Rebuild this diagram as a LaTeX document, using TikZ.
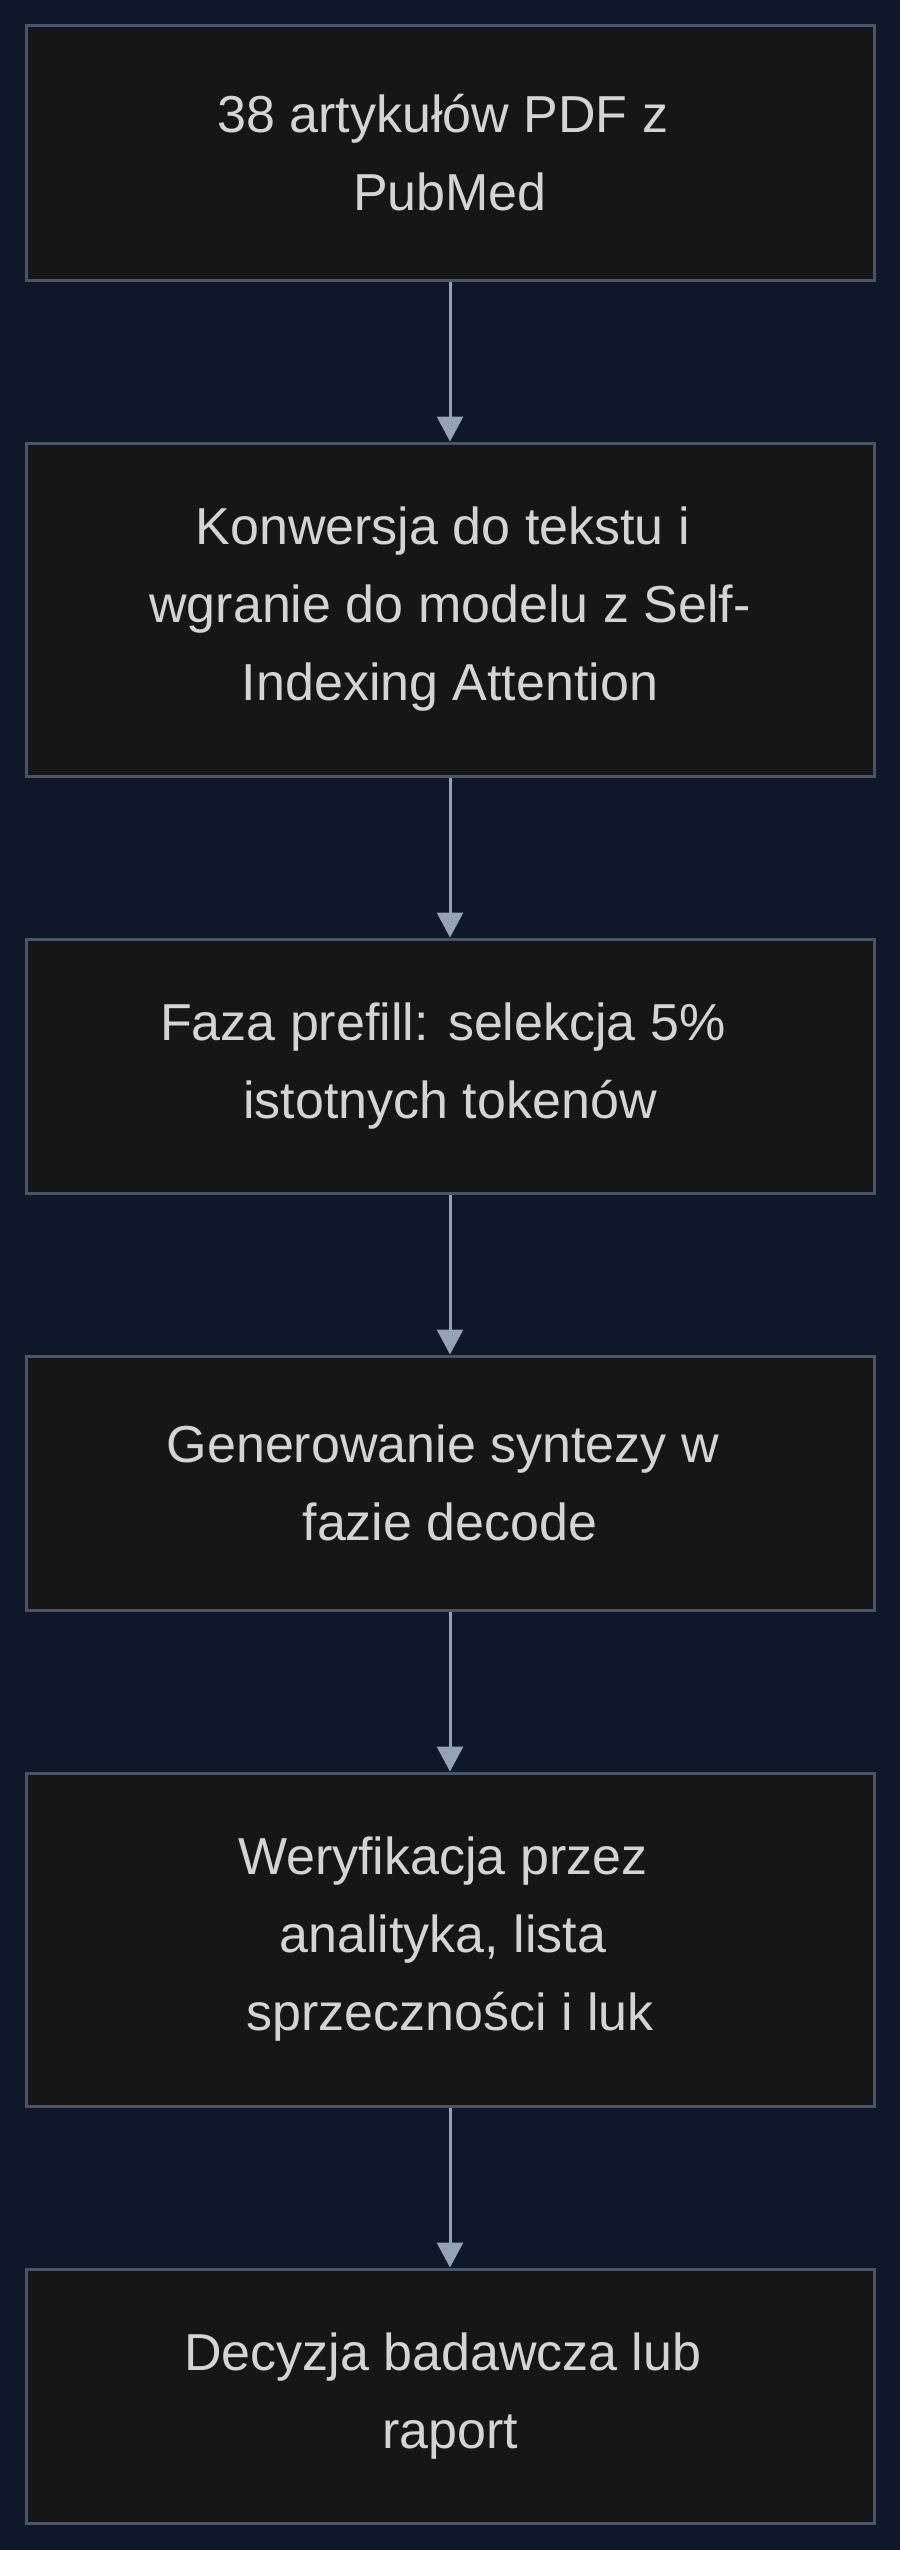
\documentclass[tikz,border=0pt]{standalone}
\usepackage{fontspec}
\setmainfont{Liberation Sans}
\usetikzlibrary{positioning,arrows.meta}
\definecolor{bgnavy}{HTML}{0F172A}
\definecolor{boxfill}{HTML}{161616}
\definecolor{boxline}{HTML}{475569}
\definecolor{arrowcol}{HTML}{94A3B8}
\definecolor{txtcol}{HTML}{D4D4D4}
\newcommand{\tsp}{\kern.278em}
\begin{document}
\begin{tikzpicture}[
  stage/.style={draw=boxline,line width=3pt,fill=boxfill,text=txtcol,
    minimum width=848pt,minimum height=254pt,align=center,
    font=\fontsize{52}{78}\selectfont},
  tall/.style={minimum height=333pt},
  flow/.style={draw=arrowcol,line width=3pt,-{Triangle[width=26pt,length=25pt]}},
  node distance=160pt]
\fill[bgnavy] (0,0) rectangle (900pt,-2550pt);
\node[stage] (pdf) at (450pt,-153pt) {38 artykułów PDF z\tsp\\PubMed};
\node[stage,tall,below=of pdf] (konw) {Konwersja do tekstu i\tsp\\wgranie do modelu z Self-\\Indexing Attention};
\node[stage,below=of konw] (prefill) {Faza prefill: selekcja 5\%\tsp\\istotnych tokenów};
\node[stage,below=of prefill] (decode) {Generowanie syntezy w\tsp\\fazie decode};
\node[stage,tall,below=of decode] (weryf) {Weryfikacja przez\tsp\\analityka, lista\tsp\\sprzeczności i luk};
\node[stage,below=of weryf] (decyzja) {Decyzja badawcza lub\tsp\\raport};
\draw[flow] (pdf) -- (konw);
\draw[flow] (konw) -- (prefill);
\draw[flow] (prefill) -- (decode);
\draw[flow] (decode) -- (weryf);
\draw[flow] (weryf) -- (decyzja);
\end{tikzpicture}
\end{document}
